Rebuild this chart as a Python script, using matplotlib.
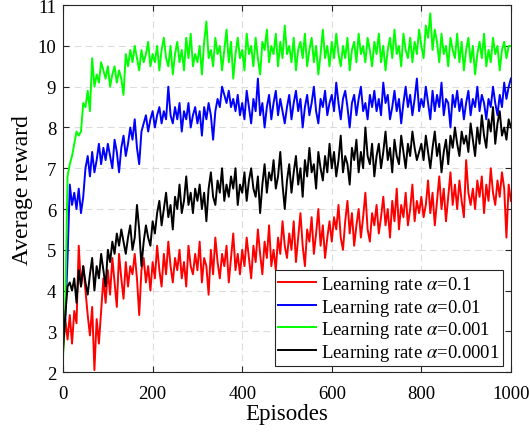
import matplotlib
matplotlib.use('Agg')
import matplotlib.pyplot as plt
import numpy as np

# episodes sampled every 5 steps
episodes = np.arange(0, 1001, 5)

reward_lr_01 = [
    2.5, 3.3, 2.8, 3.4, 2.7, 3.5, 3.2, 5.1, 4.1, 4.6, 4.0, 3.4, 2.9, 3.6, 2.05, 3.3, 2.7, 3.5, 4.3, 3.7,
    4.5, 3.9, 4.8, 4.2, 3.6, 4.9, 4.3, 3.8, 4.7, 4.1, 4.6, 4.4, 4.9, 4.3, 3.4, 4.5, 4.8, 4.2, 4.6, 4.0,
    4.7, 4.3, 5.1, 4.5, 4.1, 4.9, 4.4, 5.2, 4.6, 4.2, 4.8, 4.5, 5.0, 4.3, 4.7, 4.1, 5.1, 4.6, 4.4, 4.9,
    4.5, 5.2, 4.2, 4.8, 4.6, 3.9, 5.0, 4.4, 5.3, 4.7, 4.3, 4.9, 4.6, 5.1, 4.2, 4.8, 5.4, 4.5, 4.9, 4.4,
    5.0, 4.6, 5.3, 4.8, 4.3, 5.1, 4.7, 5.5, 4.9, 4.4, 5.2, 4.8, 5.6, 4.6, 5.0, 4.5, 5.3, 4.9, 5.7, 5.1,
    4.8, 5.4, 5.0, 5.7, 4.7, 5.3, 5.9, 5.1, 4.6, 5.5, 5.2, 5.8, 4.9, 5.4, 6.0, 5.1, 5.6, 4.8, 5.3, 5.7,
    5.2, 5.8, 5.5, 6.1, 5.3, 5.0, 5.7, 6.2, 5.4, 5.9, 5.1, 5.6, 6.0, 5.3, 5.8, 6.4, 5.5, 5.2, 5.9, 5.6,
    6.1, 5.4, 5.8, 6.3, 5.6, 6.0, 5.3, 6.2, 5.7, 6.5, 5.5, 6.1, 5.8, 6.4, 5.6, 6.0, 6.6, 5.7, 6.2, 5.9,
    6.3, 5.8, 6.1, 6.7, 5.9, 6.4, 5.6, 6.2, 6.8, 6.0, 6.5, 5.7, 6.3, 6.9, 6.1, 6.6, 6.0, 6.7, 6.2, 5.8,
    7.2, 6.4, 6.1, 6.5, 6.0, 6.7, 6.3, 6.8, 5.9, 6.6, 6.2, 7.0, 6.4, 6.1, 6.7, 6.3, 6.9, 6.5, 5.3, 6.6,
    6.2,
]

reward_lr_001 = [
    2.9, 3.3, 4.8, 6.6, 6.1, 6.4, 6.0, 6.5, 5.9, 6.3, 7.0, 7.3, 6.8, 7.4, 6.9, 7.2, 7.6, 7.1, 7.5, 7.2,
    7.6, 7.3, 7.0, 7.7, 7.4, 6.9, 7.5, 7.8, 7.3, 7.6, 8.0, 7.7, 8.2, 7.5, 7.1, 7.9, 8.1, 8.3, 7.9, 8.2,
    8.4, 8.0, 8.3, 8.5, 8.1, 8.4, 8.2, 9.0, 8.3, 8.1, 8.5, 8.2, 8.6, 7.9, 8.4, 8.2, 8.6, 8.0, 8.3, 8.5,
    8.1, 8.4, 7.8, 8.5, 8.2, 8.6, 8.3, 7.7, 8.4, 8.7, 8.5, 9.0, 8.8, 8.6, 8.9, 8.5, 8.7, 8.4, 8.8, 8.3,
    8.6, 8.2, 8.9, 8.5, 8.1, 8.7, 8.4, 9.2, 8.3, 8.6, 8.0, 8.5, 8.8, 8.2, 8.6, 8.9, 8.3, 8.7, 8.4, 8.1,
    8.5, 8.8, 8.2, 8.6, 8.9, 8.4, 8.7, 8.0, 8.5, 8.8, 8.3, 8.6, 9.0, 8.4, 8.1, 8.7, 8.5, 8.9, 8.3, 8.6,
    8.8, 8.4, 9.1, 8.6, 8.2, 8.7, 8.9, 8.5, 8.0, 8.6, 8.8, 8.3, 8.7, 9.0, 8.4, 8.6, 8.2, 8.8, 8.5, 8.9,
    8.4, 8.7, 8.3, 9.1, 8.6, 8.8, 8.2, 8.5, 8.9, 8.4, 8.7, 8.1, 8.6, 9.0, 8.5, 8.8, 8.3, 8.7, 9.2, 8.4,
    8.7, 8.5, 9.0, 8.6, 8.2, 8.9, 8.4, 8.8, 8.5, 9.1, 8.3, 8.7, 8.6, 8.0, 8.8, 8.5, 8.9, 8.4, 8.7, 8.2,
    8.6, 8.9, 8.3, 8.7, 8.5, 9.0, 8.4, 8.8, 8.6, 8.2, 8.7, 8.5, 9.0, 8.6, 8.3, 8.8, 8.5, 9.1, 8.7, 9.0,
    9.2,
]

reward_lr_0001 = [
    2.4, 3.6, 6.8, 7.1, 7.3, 7.6, 7.9, 7.8, 7.9, 8.6, 8.5, 8.9, 8.4, 9.7, 9.0, 9.3, 9.1, 9.6, 9.4, 9.2,
    9.5, 9.0, 9.3, 9.5, 9.1, 9.4, 9.2, 8.8, 9.8, 9.5, 9.9, 9.6, 10.0, 9.7, 9.4, 9.9, 9.6, 9.8, 10.1, 9.5,
    9.8, 9.6, 10.0, 9.4, 9.9, 10.2, 9.7, 9.5, 10.0, 9.3, 9.8, 10.1, 9.6, 9.9, 9.4, 10.2, 9.7, 10.3, 9.5, 9.8,
    9.6, 10.0, 9.3, 10.1, 10.6, 9.7, 9.9, 9.5, 10.2, 9.8, 10.0, 9.4, 9.9, 10.4, 9.6, 10.1, 9.2, 9.8, 10.2, 9.7,
    9.9, 9.4, 10.3, 9.8, 10.0, 9.5, 10.2, 9.7, 9.3, 10.1, 9.9, 10.4, 9.6, 10.0, 9.8, 10.3, 9.5, 10.1, 9.7, 10.5,
    9.8, 10.0, 9.6, 10.2, 9.4, 9.9, 10.1, 9.7, 10.3, 9.5, 9.9, 10.2, 9.6, 10.0, 9.3, 9.8, 10.4, 9.7, 10.0, 9.5,
    10.1, 9.7, 10.3, 9.8, 9.5, 10.0, 9.7, 10.2, 9.4, 9.9, 10.1, 9.6, 10.3, 9.8, 10.0, 9.6, 10.2, 9.9, 9.5, 10.1,
    9.8, 10.3, 9.6, 10.0, 9.4, 9.9, 10.2, 9.7, 10.4, 9.8, 10.0, 9.5, 10.3, 9.9, 9.7, 10.2, 9.6, 10.1, 9.8, 10.4,
    10.0, 9.7, 10.5, 10.2, 10.8, 9.9, 10.4, 10.1, 9.6, 10.3, 9.8, 10.0, 9.5, 10.2, 9.9, 9.7, 10.3, 9.6, 10.1, 9.4,
    9.9, 10.2, 9.6, 10.0, 9.3, 9.8, 10.1, 9.7, 10.3, 9.5, 9.9, 9.6, 10.2, 9.8, 10.0, 9.4, 9.9, 10.1, 9.7, 10.0,
    10.0,
]

reward_lr_00001 = [
    2.6, 3.4, 4.1, 4.2, 4.0, 4.3, 3.7, 4.5, 4.1, 4.6, 4.2, 3.9, 4.4, 4.8, 4.0, 4.6, 4.3, 4.9, 4.5, 4.1,
    5.0, 4.7, 5.2, 4.9, 5.4, 5.1, 5.5, 5.2, 4.9, 5.3, 5.6, 5.0, 5.3, 6.1, 5.5, 4.6, 5.2, 5.6, 5.3, 5.1,
    5.7, 5.4, 5.9, 6.2, 5.6, 6.0, 6.4, 5.8, 6.1, 5.5, 6.3, 6.0, 6.6, 5.9, 6.2, 6.8, 6.1, 6.4, 5.9, 6.5,
    6.2, 6.6, 6.0, 6.4, 5.7, 6.5, 6.9, 6.3, 6.1, 6.7, 6.4, 7.0, 6.2, 6.6, 6.3, 6.8, 6.5, 7.0, 6.1, 6.6,
    6.4, 6.9, 6.2, 6.7, 7.0, 6.5, 6.3, 6.8, 5.9, 6.6, 7.1, 6.4, 6.9, 6.7, 7.2, 6.5, 6.8, 7.4, 6.6, 6.0,
    6.7, 7.1, 6.4, 6.9, 7.3, 6.6, 7.0, 6.3, 7.2, 6.8, 7.5, 6.9, 7.1, 6.5, 7.4, 7.0, 6.7, 7.3, 6.9, 7.6,
    7.0, 7.4, 6.8, 7.2, 7.8, 6.9, 7.3, 7.1, 6.6, 7.5, 7.2, 7.7, 6.9, 7.4, 7.0, 8.0, 7.3, 7.1, 7.6, 6.8,
    7.3, 7.6, 7.0, 7.4, 7.9, 7.2, 7.5, 6.9, 7.7, 7.3, 7.1, 7.8, 7.4, 7.0, 7.6, 7.3, 7.9, 7.5, 7.2, 7.4,
    7.6, 7.2, 7.8, 7.4, 7.0, 7.5, 7.9, 7.3, 7.6, 6.9, 7.4, 7.7, 7.1, 7.8, 7.5, 8.0, 7.6, 7.3, 7.9, 7.6,
    7.8, 7.4, 8.1, 7.7, 7.3, 8.0, 7.6, 8.3, 7.8, 7.5, 8.2, 7.9, 8.5, 7.6, 8.1, 8.4, 7.8, 8.0, 7.7, 8.2,
    8.0,
]

labels = [r'Learning rate $\alpha$=0.1', r'Learning rate $\alpha$=0.01',
          r'Learning rate $\alpha$=0.001', r'Learning rate $\alpha$=0.0001']
colors = ['#ff0000', '#0000ff', '#00ff00', '#000000']

plt.rcParams['font.family'] = ['Liberation Serif', 'DejaVu Serif']
plt.rcParams['mathtext.fontset'] = 'stix'

fig = plt.figure(figsize=(5.3, 4.39), dpi=100)
ax = fig.add_axes([0.119, 0.150, 0.845, 0.836])

series = [reward_lr_01, reward_lr_001, reward_lr_0001, reward_lr_00001]
for vals, lab, col in zip(series, labels, colors):
    ax.plot(episodes, vals, color=col, lw=1.4, label=lab)

ax.set_xlim(0, 1000)
ax.set_ylim(2, 11)
ax.set_xticks(np.arange(0, 1001, 200))
ax.set_yticks(np.arange(2, 12, 1))
ax.grid(True, ls=(0, (6, 4)), color='#dcdcdc', lw=0.8)
ax.set_axisbelow(True)
ax.tick_params(direction='in', top=True, right=True, labelsize=13.5, length=4,
               color='#262626')
ax.tick_params(axis='x', pad=9)
ax.tick_params(axis='y', pad=5)
for sp in ax.spines.values():
    sp.set_color('#262626')
    sp.set_linewidth(0.8)

ax.set_xlabel('Episodes', fontsize=16.5, labelpad=1)
ax.set_ylabel('Average reward', fontsize=17, labelpad=3)

leg = ax.legend(loc='lower right', bbox_to_anchor=(0.982, 0.016), borderaxespad=0,
                fontsize=13.5, handlelength=2.0, fancybox=False, framealpha=1,
                edgecolor='#262626', labelspacing=0.08, borderpad=0.2,
                handletextpad=0.25)
leg.get_frame().set_linewidth(0.8)

fig.savefig('out.png', dpi=100)
